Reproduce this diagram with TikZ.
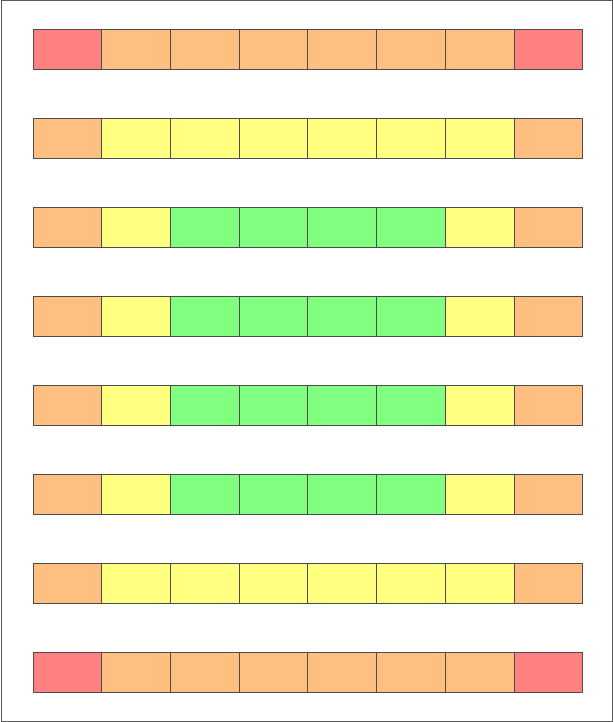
\documentclass[tikz,border=0pt]{standalone}
\begin{document}
\begin{tikzpicture}[x=1pt,y=-1pt,
  cell/.style={draw=black!70,line width=0.8pt,minimum width=68.7pt,minimum height=40.5pt,inner sep=0pt,outer sep=0pt,anchor=north west},
  frame/.style={draw=black!65,line width=1pt}]
\definecolor{cR}{HTML}{FF8080}
\definecolor{cO}{HTML}{FFBF80}
\definecolor{cY}{HTML}{FFFF80}
\definecolor{cG}{HTML}{80FF80}
\useasboundingbox (0,0) rectangle (613,722);
\draw[frame] (1,1) rectangle (612,721);
\foreach \r/\cols in {0/{R,O,O,O,O,O,O,R},1/{O,Y,Y,Y,Y,Y,Y,O},2/{O,Y,G,G,G,G,Y,O},3/{O,Y,G,G,G,G,Y,O},4/{O,Y,G,G,G,G,Y,O},5/{O,Y,G,G,G,G,Y,O},6/{O,Y,Y,Y,Y,Y,Y,O},7/{R,O,O,O,O,O,O,R}}{
  \foreach \k [count=\c from 0] in \cols {
    \node[cell,fill=c\k] (cell-\r-\c) at ({33+68.7*\c},{29+89*\r}) {};
  }
}
\end{tikzpicture}
\end{document}
